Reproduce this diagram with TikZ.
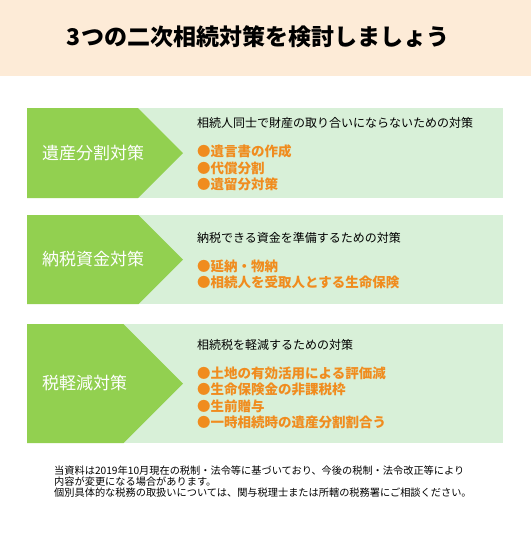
\documentclass[tikz,border=0pt]{standalone}
\usepackage{fontspec}
\setmainfont{Noto Sans CJK JP}
\usetikzlibrary{positioning}
\definecolor{peach}{RGB}{253,235,215}
\definecolor{leafgreen}{RGB}{146,208,80}
\definecolor{palegreen}{RGB}{216,240,216}
\definecolor{tangerine}{RGB}{240,140,30}

\begin{document}
\begin{tikzpicture}[
  x=1pt,y=-1pt,
  heading/.style={font=\fontsize{23}{27}\selectfont\bfseries,inner sep=0pt},
  tablabel/.style={anchor=west,text=white,font=\fontsize{17}{20}\selectfont,inner sep=0pt},
  aim/.style={anchor=west,font=\fontsize{12}{14}\selectfont,inner sep=0pt},
  items/.style={align=left,text=tangerine,font=\fontsize{13.5}{16.3}\selectfont\bfseries,inner sep=0pt},
  note/.style={anchor=north west,align=left,font=\fontsize{10.2}{11}\selectfont,inner sep=0pt}
]
\useasboundingbox[fill=white] (0,0) rectangle (531,533);
\fill[peach] (0,0) rectangle (531,76);
\node[heading] (title) at (258,37) {3つの二次相続対策を検討しましょう};
% panel 1
\fill[palegreen] (27,108) rectangle (503,198);
\fill[leafgreen] (27,108) -- (138,108) -- (183,153) -- (138,198) -- (27,198) -- cycle;
\node[tablabel] (tab1) at (42,153) {遺産分割対策};
\node[aim] (aim1) at (197,123) {相続人同士で財産の取り合いにならないための対策};
\node[items, below=16pt of aim1.south west, anchor=north west] (list1) {●遺言書の作成\\●代償分割\\●遺留分対策};
% panel 2
\fill[palegreen] (27,215) rectangle (503,304);
\fill[leafgreen] (27,215) -- (138.5,215) -- (183,259.5) -- (138.5,304) -- (27,304) -- cycle;
\node[tablabel] (tab2) at (42,259.5) {納税資金対策};
\node[aim] (aim2) at (197,238) {納税できる資金を準備するための対策};
\node[items, below=16pt of aim2.south west, anchor=north west] (list2) {●延納・物納\\●相続人を受取人とする生命保険};
% panel 3
\fill[palegreen] (27,324) rectangle (503,443);
\fill[leafgreen] (27,324) -- (123.5,324) -- (183,383.5) -- (123.5,443) -- (27,443) -- cycle;
\node[tablabel] (tab3) at (42,383.5) {税軽減対策};
\node[aim] (aim3) at (197,345) {相続税を軽減するための対策};
\node[items, below=16pt of aim3.south west, anchor=north west] (list3) {●土地の有効活用による評価減\\●生命保険金の非課税枠\\●生前贈与\\●一時相続時の遺産分割割合う};
% footnote
\node[note] (remark) at (54,466) {当資料は2019年10月現在の税制・法令等に基づいており、今後の税制・法令改正等により\\内容が変更になる場合があります。\\個別具体的な税務の取扱いについては、関与税理士または所轄の税務署にご相談ください。};
\end{tikzpicture}
\end{document}
